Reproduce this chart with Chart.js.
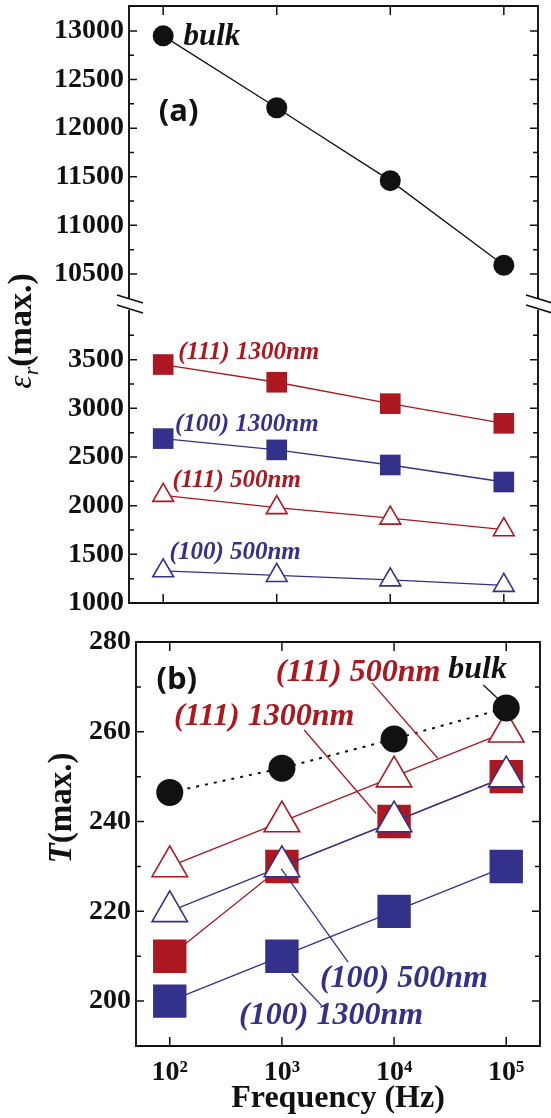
<!DOCTYPE html>
<html>
<head>
<meta charset="utf-8">
<script src="https://cdn.jsdelivr.net/npm/chart.js@4.4.0/dist/chart.umd.min.js"></script>
<style>
html, body { margin: 0; padding: 0; background: #fff; }
#wrap { position: relative; width: 551px; height: 1118px; }
canvas { position: absolute; left: 0; top: 0; }
</style>
</head>
<body>
<div id="wrap">
  <canvas id="bulkEps" width="551" height="1118"></canvas>
  <canvas id="filmEps" width="551" height="1118"></canvas>
  <canvas id="tMax" width="551" height="1118"></canvas>
</div>
<script>
// values
const freq = [100, 1000, 10000, 100000];
const xTickLabels = ['10²', '10³', '10⁴', '10⁵'];

const epsBulk = [12950, 12210, 11460, 10590];
const eps111_1300 = [3450, 3268, 3048, 2846];
const eps100_1300 = [2689, 2573, 2418, 2243];
const eps111_500 = [2106, 1980, 1872, 1753];
const eps100_500 = [1331, 1283, 1238, 1181];

const tBulk = [246.5, 251.9, 258.4, 265.3];
const t111_500 = [230, 240, 250, 260];
const t111_1300 = [210, 230, 240, 250];
const t100_500 = [220, 230, 240, 250];
const t100_1300 = [200, 210, 220, 230];

const epsUpperTicks = [10500, 11000, 11500, 12000, 12500, 13000];
const epsUpperMinor = [10750, 11250, 11750, 12250, 12750];
const epsLowerTicks = [1000, 1500, 2000, 2500, 3000, 3500];
const epsLowerMinor = [1250, 1750, 2250, 2750, 3250, 3750];
const tTicks = [200, 220, 240, 260, 280];
const tMinor = [210, 230, 250, 270];

const RED = '#ad1720';
const BLUE = '#34318a';
const INK = '#111';
const SERIF = '"Liberation Serif", "Times New Roman", serif';

// box frame with inward ticks, plus the axis break marks
const frame = {
  id: 'frame',
  afterDraw(chart, args, o) {
    const { ctx, chartArea: a, scales: { x, y } } = chart;
    ctx.save();
    ctx.strokeStyle = INK;
    ctx.lineCap = 'square';
    ctx.lineWidth = 1.9;
    ctx.beginPath();
    ctx.moveTo(a.left, a.top); ctx.lineTo(a.left, a.bottom);
    ctx.moveTo(a.right, a.top); ctx.lineTo(a.right, a.bottom);
    if (o.top) { ctx.moveTo(a.left, a.top); ctx.lineTo(a.right, a.top); }
    if (o.bottom) { ctx.moveTo(a.left, a.bottom); ctx.lineTo(a.right, a.bottom); }
    ctx.stroke();

    ctx.lineCap = 'butt';
    ctx.lineWidth = 1.5;
    ctx.beginPath();
    const yMark = (v, len) => {
      const p = y.getPixelForValue(v);
      ctx.moveTo(a.left, p); ctx.lineTo(a.left + len, p);
      ctx.moveTo(a.right, p); ctx.lineTo(a.right - len, p);
    };
    o.yMajor.forEach(v => yMark(v, 8));
    o.yMinor.forEach(v => yMark(v, 5));
    freq.forEach(v => {
      const p = x.getPixelForValue(v);
      if (o.top) { ctx.moveTo(p, a.top); ctx.lineTo(p, a.top + 9); }
      if (o.bottom) { ctx.moveTo(p, a.bottom); ctx.lineTo(p, a.bottom - 9); }
    });
    ctx.stroke();

    if (o.broken) {
      ctx.lineWidth = 1.6;
      ctx.beginPath();
      [a.left, a.right].forEach(px => {
        ctx.moveTo(px - 12, a.top - 16); ctx.lineTo(px + 14, a.top - 8);
        ctx.moveTo(px - 12, a.top - 6); ctx.lineTo(px + 14, a.top + 2);
      });
      ctx.stroke();
    }
    ctx.restore();
  }
};

// in-plot labels and leader lines, placed in data units
const annotate = {
  id: 'annotate',
  afterDatasetsDraw(chart, args, o) {
    const { ctx, scales: { x, y } } = chart;
    ctx.save();
    (o.leaders || []).forEach(l => {
      ctx.strokeStyle = l.color;
      ctx.lineWidth = 1.3;
      ctx.beginPath();
      ctx.moveTo(x.getPixelForValue(l.from[0]), y.getPixelForValue(l.from[1]));
      ctx.lineTo(x.getPixelForValue(l.to[0]), y.getPixelForValue(l.to[1]));
      ctx.stroke();
    });
    (o.labels || []).forEach(t => {
      ctx.font = t.font;
      ctx.fillStyle = t.color;
      ctx.textAlign = 'left';
      ctx.textBaseline = 'middle';
      ctx.fillText(t.text, x.getPixelForValue(t.at[0]), y.getPixelForValue(t.at[1]));
    });
    ctx.restore();
  }
};

// rotated axis title made of several runs (italic, subscript)
const richTitle = {
  id: 'richTitle',
  afterDraw(chart, args, o) {
    if (!o.parts) return;
    const ctx = chart.ctx;
    ctx.save();
    ctx.translate(o.x, o.y);
    ctx.rotate(-Math.PI / 2);
    ctx.fillStyle = INK;
    ctx.textAlign = 'left';
    ctx.textBaseline = 'alphabetic';
    let total = 0;
    o.parts.forEach(p => { ctx.font = p.font; total += ctx.measureText(p.text).width; });
    let cx = -total / 2;
    o.parts.forEach(p => {
      ctx.font = p.font;
      ctx.fillText(p.text, cx, p.dy || 0);
      cx += ctx.measureText(p.text).width;
    });
    ctx.restore();
  }
};

Chart.register(frame, annotate, richTitle);

const tickFont = { family: SERIF, size: 28, weight: 'bold' };
const labelFont = size => 'italic bold ' + size + 'px ' + SERIF;

function series(data, color, style, radius, open) {
  return {
    data: data,
    borderColor: color,
    borderWidth: 1.3,
    pointStyle: style,
    pointRadius: radius,
    pointBackgroundColor: open ? '#fff' : color,
    pointBorderColor: color,
    pointBorderWidth: open ? 1.6 : 0,
    clip: false
  };
}

function xScale(show) {
  return {
    type: 'logarithmic',
    min: 50,
    max: 200000,
    display: show,
    afterBuildTicks: s => { s.ticks = freq.map(v => ({ value: v })); },
    afterFit: s => {
      if (show) s.height = 72;
      s.paddingLeft = 0;
      s.paddingRight = 0;
    },
    grid: { display: false, drawTicks: false },
    border: { display: false },
    ticks: {
      font: tickFont,
      color: INK,
      padding: 10,
      maxRotation: 0,
      callback: (v, i) => xTickLabels[i]
    },
    title: {
      display: show,
      text: 'Frequency (Hz)',
      font: { family: SERIF, size: 32, weight: 'bold' },
      color: INK,
      padding: { top: 0, bottom: 0 }
    }
  };
}

function yScale(min, max, ticks, width) {
  return {
    min: min,
    max: max,
    afterBuildTicks: s => { s.ticks = ticks.map(v => ({ value: v })); },
    afterFit: s => {
      s.width = width;
      s.paddingTop = 0;
      s.paddingBottom = 0;
    },
    grid: { display: false, drawTicks: false },
    border: { display: false },
    ticks: { font: tickFont, color: INK, padding: 5, callback: v => String(v) }
  };
}

function baseOptions(pad, scales, plugins) {
  return {
    responsive: false,
    animation: false,
    events: [],
    layout: { padding: pad, autoPadding: false },
    scales: scales,
    plugins: Object.assign({ legend: { display: false }, tooltip: { enabled: false } }, plugins)
  };
}

const pts = arr => arr.map((v, i) => ({ x: freq[i], y: v }));

// (a) upper part: bulk
new Chart(document.getElementById('bulkEps'), {
  type: 'line',
  data: {
    datasets: [series(pts(epsBulk), INK, 'circle', 10.5, false)]
  },
  options: baseOptions(
    { top: 6, bottom: 821, left: 0, right: 13 },
    { x: xScale(false), y: yScale(10263, 13257, epsUpperTicks, 129) },
    {
      frame: { top: true, bottom: false, yMajor: epsUpperTicks, yMinor: epsUpperMinor },
      annotate: {
        labels: [
          { text: 'bulk', at: [151, 12941], color: INK, font: labelFont(31) },
          { text: '(a)', at: [91.6, 12167], color: INK, font: 'bold 31px "Open Sans", sans-serif' }
        ]
      },
      richTitle: {
        x: 31, y: 331,
        parts: [
          { text: 'ε', font: 'italic 34px ' + SERIF },
          { text: 'r', font: 'italic 22px ' + SERIF, dy: 7 },
          { text: '(max.)', font: 'bold 34px ' + SERIF }
        ]
      }
    }
  )
});

// (a) lower part: films
new Chart(document.getElementById('filmEps'), {
  type: 'line',
  data: {
    datasets: [
      series(pts(eps111_1300), RED, 'rect', 14.6, false),
      series(pts(eps100_1300), BLUE, 'rect', 14.6, false),
      series(pts(eps111_500), RED, 'triangle', 12, true),
      series(pts(eps100_500), BLUE, 'triangle', 12, true)
    ]
  },
  options: baseOptions(
    { top: 311, bottom: 515, left: 0, right: 13 },
    { x: xScale(false), y: yScale(1000, 4000, epsLowerTicks, 129) },
    {
      frame: { top: false, bottom: true, broken: true, yMajor: epsLowerTicks, yMinor: epsLowerMinor },
      annotate: {
        labels: [
          { text: '(111) 1300nm', at: [135.8, 3578], color: RED, font: labelFont(25) },
          { text: '(100) 1300nm', at: [126.8, 2836], color: BLUE, font: labelFont(25) },
          { text: '(111) 500nm', at: [120.5, 2261], color: RED, font: labelFont(25) },
          { text: '(100) 500nm', at: [113.8, 1514], color: BLUE, font: labelFont(25) }
        ]
      }
    }
  )
});

// (b) temperature of the maximum
const bulkT = series(pts(tBulk), INK, 'circle', 13.5, false);
bulkT.borderDash = [3, 6];
bulkT.borderWidth = 2;
new Chart(document.getElementById('tMax'), {
  type: 'line',
  data: {
    datasets: [
      bulkT,
      series(pts(t111_500), RED, 'triangle', 20.5, true),
      series(pts(t100_500), BLUE, 'triangle', 20.5, true),
      series(pts(t111_1300), RED, 'rect', 23.6, false),
      series(pts(t100_1300), BLUE, 'rect', 23.6, false)
    ]
  },
  options: baseOptions(
    { top: 642, bottom: 0, left: 0, right: 11 },
    { x: xScale(true), y: yScale(190, 280, tTicks, 136) },
    {
      frame: { top: true, bottom: true, yMajor: tTicks, yMinor: tMinor },
      annotate: {
        leaders: [
          { from: [62500, 270.4], to: [86700, 267.1], color: INK },
          { from: [6350, 270.9], to: [24500, 254.1], color: RED },
          { from: [1580, 260.4], to: [6920, 241.8], color: RED },
          { from: [984, 229.5], to: [3890, 208.7], color: BLUE },
          { from: [1220, 206.1], to: [2260, 199.0], color: BLUE }
        ],
        labels: [
          { text: '(b)', at: [76, 271.5], color: INK, font: 'bold 31px "Open Sans", sans-serif' },
          { text: 'bulk', at: [30400, 273.8], color: INK, font: labelFont(32) },
          { text: '(111) 500nm', at: [883, 273.1], color: RED, font: labelFont(32) },
          { text: '(111) 1300nm', at: [109, 263.3], color: RED, font: labelFont(32) },
          { text: '(100) 500nm', at: [2180, 205.0], color: BLUE, font: labelFont(32) },
          { text: '(100) 1300nm', at: [415, 196.8], color: BLUE, font: labelFont(32) }
        ]
      },
      richTitle: {
        x: 71, y: 808,
        parts: [
          { text: 'T', font: 'italic bold 33px ' + SERIF },
          { text: '(max.)', font: 'bold 33px ' + SERIF }
        ]
      }
    }
  )
});
</script>
</body>
</html>
